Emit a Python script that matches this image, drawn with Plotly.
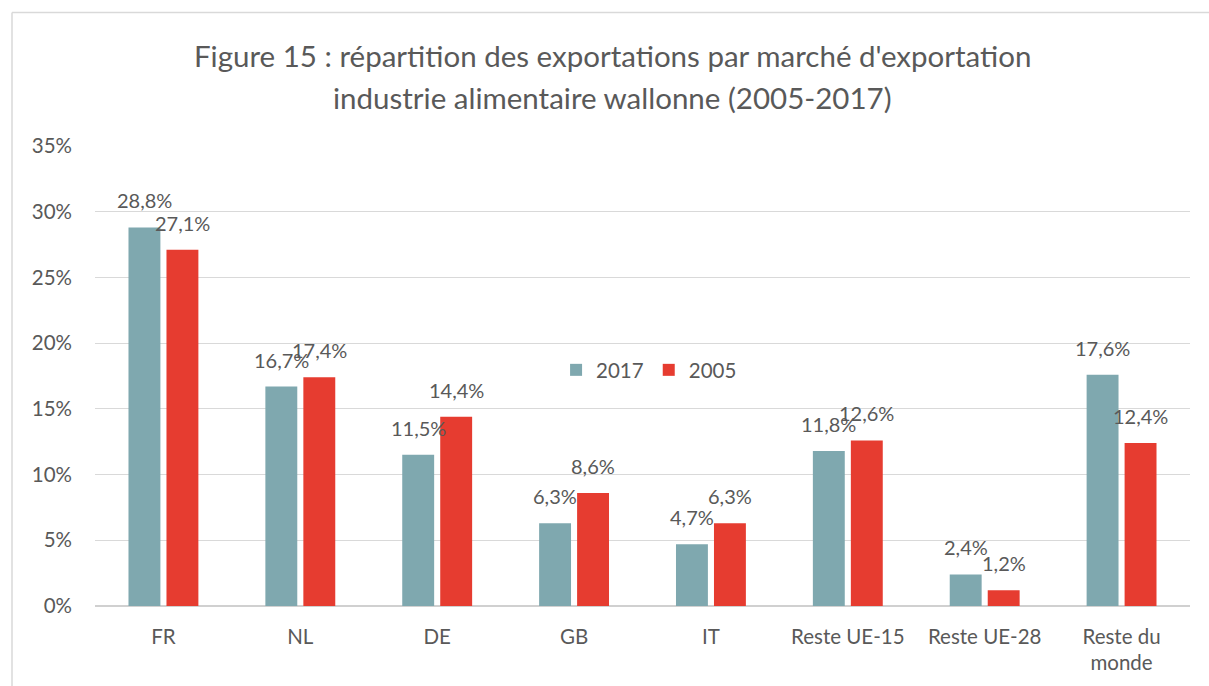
import plotly.graph_objects as go

categories = ["FR", "NL", "DE", "GB", "IT", "Reste UE-15", "Reste UE-28", "Reste du<br>monde"]
values_2017 = [28.8, 16.7, 11.5, 6.3, 4.7, 11.8, 2.4, 17.6]
values_2005 = [27.1, 17.4, 14.4, 8.6, 6.3, 12.6, 1.2, 12.4]
tick_vals = [0, 5, 10, 15, 20, 25, 30, 35]
tick_text = ["0%", "5%", "10%", "15%", "20%", "25%", "30%", "35%"]
title_lines = ["Figure 15 : répartition des exportations par marché d'exportation",
               "industrie alimentaire wallonne (2005-2017)"]

def fmt(v):
    return f"{v:.1f}%".replace(".", ",")

FONT = "Lato"
GREY = "#595959"

fig = go.Figure()
fig.add_trace(go.Bar(
    name="2017", x=categories, y=values_2017,
    marker=dict(color="#7FA8AF", line=dict(width=0)),
))
fig.add_trace(go.Bar(
    name="2005", x=categories, y=values_2005,
    marker=dict(color="#E63C30", line=dict(width=0)),
))

# data labels (placed above bars, offset like the reference)
for vals, dx in ((values_2017, -19), (values_2005, 19)):
    for c, v in zip(categories, vals):
        fig.add_annotation(x=c, y=v, xref="x", yref="y", text=fmt(v),
                           showarrow=False, xshift=dx, yshift=13,
                           yanchor="bottom", xanchor="center",
                           font=dict(family=FONT, size=20, color=GREY))

# title as two lines
for txt, ypix in zip(title_lines, (55, 97)):
    fig.add_annotation(x=(612-95)/1095, y=(608-ypix)/462, xref="paper", yref="paper",
                       text=txt, showarrow=False, xanchor="center", yanchor="middle",
                       font=dict(family=FONT, size=29.5, color=GREY))

fig.update_layout(
    width=1209, height=686,
    margin=dict(l=95, r=19, t=146, b=78),
    paper_bgcolor="white", plot_bgcolor="white",
    barmode="group", bargap=0.445, bargroupgap=0.16,
    font=dict(family=FONT, color=GREY, size=20),
    legend=dict(
        orientation="h", x=0.506, xanchor="center", y=0.513, yanchor="middle",
        font=dict(family=FONT, size=20.5, color=GREY),
        bgcolor="rgba(0,0,0,0)", traceorder="normal",
    ),
)
fig.update_yaxes(
    range=[0, 35], tickvals=tick_vals, ticktext=tick_text,
    showgrid=True, gridcolor="#D9D9D9", gridwidth=1.3,
    zeroline=True, zerolinecolor="#D0D0D0", zerolinewidth=1.6,
    showline=False, ticks="", ticklabelstandoff=22,
    tickfont=dict(family=FONT, size=20.5, color=GREY),
)
fig.update_xaxes(
    showline=False, ticks="", showgrid=False,
    tickfont=dict(family=FONT, size=20.5, color=GREY),
    ticklabelstandoff=16,
)
# chart area border (top and left)
fig.add_shape(type="line", xref="paper", yref="paper",
              x0=(12-95)/1095, x1=1.2, y0=(608-12)/462, y1=(608-12)/462,
              line=dict(color="#D9D9D9", width=1.5))
fig.add_shape(type="line", xref="paper", yref="paper",
              x0=(12-95)/1095, x1=(12-95)/1095, y0=(608-12)/462, y1=-0.3,
              line=dict(color="#D9D9D9", width=1.5))

fig.write_html("out.html", config={"displayModeBar": False},
               post_script="document.body.style.margin='0';document.body.style.overflow='hidden';")
